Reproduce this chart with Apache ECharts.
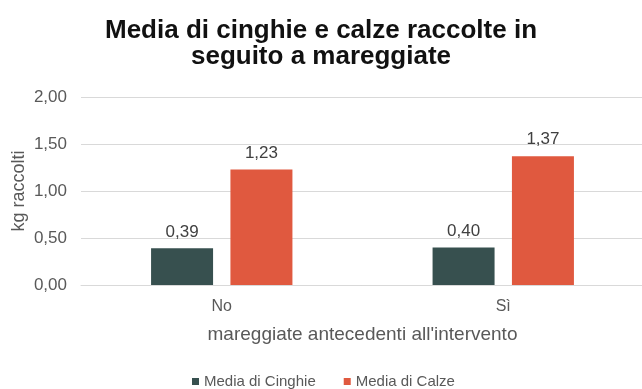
<!DOCTYPE html>
<html>
<head>
<meta charset="utf-8">
<script src="https://cdn.jsdelivr.net/npm/echarts@6/dist/echarts.min.js"></script>
<style>
  html, body { margin: 0; padding: 0; background: #ffffff; }
  #chart { width: 642px; height: 389px; }
</style>
</head>
<body>
<div id="chart"></div>
<script>
// Average kg collected after storm surges, by whether a surge preceded the clean-up
const categories = ['No', 'Sì'];
const cinghie = [0.39, 0.40];
const calze = [1.23, 1.37];
const yTicks = [0, 0.5, 1, 1.5, 2];

const FONT = '"Liberation Sans", Arial, sans-serif';
const fmt = v => v.toFixed(2).replace('.', ',');

const chart = echarts.init(document.getElementById('chart'));
chart.setOption({
  backgroundColor: '#ffffff',
  animation: false,
  textStyle: { fontFamily: FONT },
  title: {
    text: 'Media di cinghie e calze raccolte in\nseguito a mareggiate',
    left: 'center',
    top: 13,
    textStyle: {
      fontFamily: FONT,
      fontSize: 26,
      fontWeight: 'bold',
      color: '#111111',
      lineHeight: 26
    }
  },
  legend: {
    top: 369,
    left: 187,
    itemWidth: 7,
    itemHeight: 7,
    itemGap: 28,
    icon: 'rect',
    textStyle: { fontFamily: FONT, fontSize: 15, color: '#595959' },
    data: ['Media di Cinghie', 'Media di Calze']
  },
  grid: { left: 81, top: 97, width: 563, height: 188, containLabel: false, outerBoundsMode: 'none' },
  xAxis: {
    type: 'category',
    data: categories,
    name: "mareggiate antecedenti all'intervento",
    nameLocation: 'middle',
    nameGap: 40,
    nameTextStyle: { fontFamily: FONT, fontSize: 19, color: '#595959' },
    axisLine: { lineStyle: { color: '#d9d9d9', width: 1 } },
    axisTick: { show: false },
    axisLabel: { fontFamily: FONT, fontSize: 16, color: '#595959', margin: 14 }
  },
  yAxis: {
    type: 'value',
    min: yTicks[0],
    max: yTicks[yTicks.length - 1],
    interval: yTicks[1] - yTicks[0],
    name: 'kg raccolti',
    nameLocation: 'middle',
    nameGap: 53,
    nameMoveOverlap: false,
    nameTextStyle: { fontFamily: FONT, fontSize: 18, color: '#595959' },
    axisLine: { show: false },
    axisTick: { show: false },
    splitLine: { lineStyle: { color: '#d9d9d9', width: 1 } },
    axisLabel: { fontFamily: FONT, fontSize: 17, color: '#595959', margin: 14, formatter: fmt }
  },
  series: [
    {
      name: 'Media di Cinghie',
      type: 'bar',
      data: cinghie,
      barWidth: 62,
      barGap: '28%',
      itemStyle: { color: '#37504f' },
      label: { show: true, position: 'top', distance: 8, fontFamily: FONT, fontSize: 17, color: '#404040', formatter: p => fmt(p.value) }
    },
    {
      name: 'Media di Calze',
      type: 'bar',
      data: calze,
      barWidth: 62,
      itemStyle: { color: '#e0593f' },
      label: { show: true, position: 'top', distance: 8, fontFamily: FONT, fontSize: 17, color: '#404040', formatter: p => fmt(p.value) }
    }
  ]
});
</script>
</body>
</html>
